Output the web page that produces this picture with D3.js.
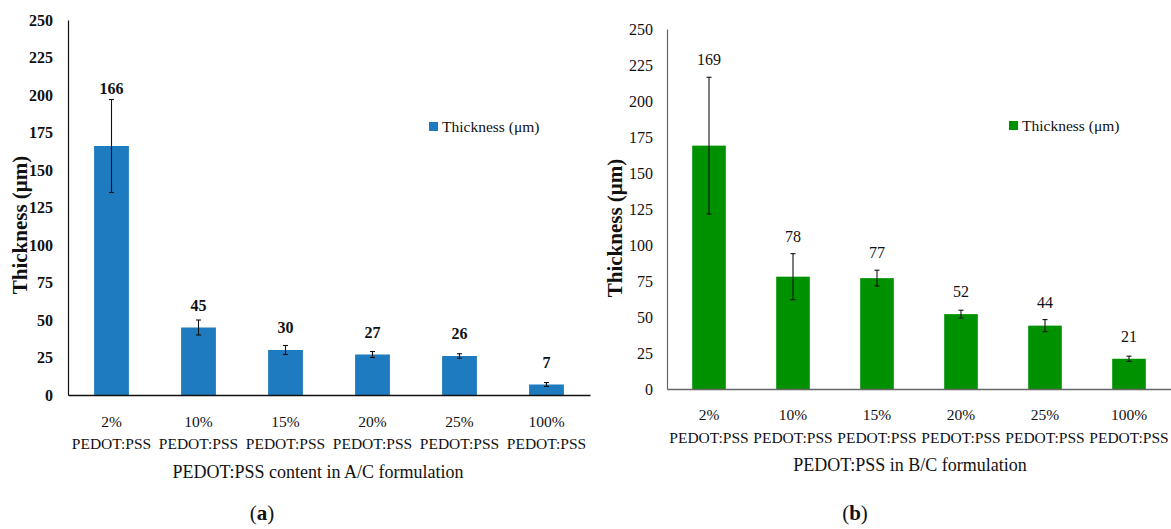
<!DOCTYPE html>
<html>
<head>
<meta charset="utf-8">
<script src="https://cdn.jsdelivr.net/npm/d3@7/dist/d3.min.js"></script>
<style>
  html, body { margin: 0; padding: 0; background: #fff; }
  svg, svg text { font-family: "Liberation Serif", "DejaVu Serif", serif; }
</style>
</head>
<body>
<svg id="fig" width="1171" height="529" font-family="Liberation Serif, serif"></svg>
<script>
// Film thickness per PEDOT:PSS content, two formulations
const categories = ["2%", "10%", "15%", "20%", "25%", "100%"];
const thicknessAC = [166, 45, 30, 27, 26, 7];
const errorAC = [31, 5, 3, 2, 1.5, 1.3];
const thicknessBC = [169, 78, 77, 52, 44, 21];
const errorBC = [47.5, 16, 5.5, 2.7, 4.2, 1.8];
const yTicks = [0, 25, 50, 75, 100, 125, 150, 175, 200, 225, 250];

const FONT = "Liberation Serif, serif";
const svg = d3.select("#fig");

function panel(cfg) {
  const g = svg.append("g").attr("font-family", FONT);
  const x = d3.scaleBand().domain(categories)
    .range([cfg.left, cfg.right]).paddingInner(0.6).paddingOuter(0.3);
  const y = d3.scaleLinear().domain([0, 250]).range([cfg.bottom, cfg.top]);

  // bars
  g.selectAll("rect.bar").data(cfg.values).join("rect")
    .attr("class", "bar")
    .attr("x", (d, i) => x(categories[i]))
    .attr("width", x.bandwidth())
    .attr("y", d => y(d))
    .attr("height", d => y(0) - y(d))
    .attr("fill", cfg.color);

  // error bars
  const eb = g.selectAll("g.err").data(cfg.values).join("g").attr("class", "err");
  const cx = i => x(categories[i]) + x.bandwidth() / 2;
  eb.append("line")
    .attr("x1", (d, i) => cx(i)).attr("x2", (d, i) => cx(i))
    .attr("y1", (d, i) => y(d - cfg.errors[i])).attr("y2", (d, i) => y(d + cfg.errors[i]))
    .attr("stroke", "#111").attr("stroke-width", 1.1);
  [-1, 1].forEach(s => {
    eb.append("line")
      .attr("x1", (d, i) => cx(i) - 2.5).attr("x2", (d, i) => cx(i) + 2.5)
      .attr("y1", (d, i) => y(d + s * cfg.errors[i])).attr("y2", (d, i) => y(d + s * cfg.errors[i]))
      .attr("stroke", "#111").attr("stroke-width", 1.1);
  });

  // value labels
  g.selectAll("text.val").data(cfg.values).join("text")
    .attr("class", "val")
    .attr("x", (d, i) => cx(i))
    .attr("y", (d, i) => Math.min(y(d) - 22, y(d + cfg.errors[i]) - cfg.labelGap) + 5)
    .attr("text-anchor", "middle")
    .attr("font-family", FONT)
    .attr("font-size", 16)
    .attr("font-weight", cfg.valueWeight)
    .attr("fill", "#111")
    .text(d => d);

  // y axis
  const ya = d3.axisLeft(y).tickValues(yTicks).tickSize(0).tickPadding(cfg.tickPad);
  const yg = g.append("g").attr("transform", `translate(${cfg.left},0)`).call(ya)
    .attr("font-family", FONT);
  yg.select(".domain").attr("stroke", cfg.axisColor).attr("stroke-width", 1.2);
  yg.selectAll("text").attr("font-size", 16).attr("font-weight", cfg.tickWeight)
    .attr("fill", "#111").attr("font-family", FONT);

  // x axis
  const xa = d3.axisBottom(x).tickSize(0).tickFormat(() => "");
  const xg = g.append("g").attr("transform", `translate(0,${cfg.bottom})`).call(xa);
  xg.select(".domain").attr("stroke", cfg.axisColor).attr("stroke-width", 1.6);
  categories.forEach(c => {
    const t = g.append("text").attr("text-anchor", "middle")
      .attr("font-family", FONT).attr("font-size", 15.5).attr("fill", "#111");
    t.append("tspan").attr("x", x(c) + x.bandwidth() / 2).attr("y", cfg.bottom + cfg.tick1).text(c);
    t.append("tspan").attr("x", x(c) + x.bandwidth() / 2).attr("y", cfg.bottom + cfg.tick2).text("PEDOT:PSS");
  });

  // axis titles
  g.append("text").attr("x", cfg.xTitleX).attr("y", cfg.xTitleY)
    .attr("text-anchor", "middle").attr("font-family", FONT).attr("font-size", 18).attr("fill", "#111")
    .text(cfg.xTitle);
  g.append("text")
    .attr("transform", `translate(${cfg.yTitleX},${cfg.yTitleY}) rotate(-90)`)
    .attr("text-anchor", "middle").attr("font-family", FONT).attr("font-size", 21).attr("font-weight", "bold")
    .attr("fill", "#111").text("Thickness (μm)");

  // legend
  g.append("rect").attr("x", cfg.legX).attr("y", cfg.legY - 5).attr("width", 9).attr("height", 9)
    .attr("fill", cfg.color);
  g.append("text").attr("x", cfg.legX + 13).attr("y", cfg.legY + 5)
    .attr("font-family", FONT).attr("font-size", 15.5).attr("fill", "#111").text("Thickness (μm)");

  // panel caption
  const cap = g.append("text").attr("x", cfg.capX).attr("y", 520)
    .attr("text-anchor", "middle").attr("font-family", FONT).attr("font-size", 21).attr("fill", "#111");
  cap.append("tspan").text("(");
  cap.append("tspan").attr("font-weight", "bold").text(cfg.cap);
  cap.append("tspan").text(")");
}

panel({
  values: thicknessAC, errors: errorAC, color: "#1f7bbf",
  left: 68, right: 590, top: 20, bottom: 395,
  axisColor: "#111", tickWeight: "bold", valueWeight: "bold", tickPad: 15,
  labelGap: 11, tick1: 32, tick2: 54,
  xTitle: "PEDOT:PSS content in A/C formulation", xTitleX: 318, xTitleY: 478,
  yTitleX: 27, yTitleY: 225,
  legX: 429, legY: 127, cap: "a", capX: 262
});

panel({
  values: thicknessBC, errors: errorBC, color: "#009100",
  left: 667, right: 1171, top: 29, bottom: 389,
  axisColor: "#666", tickWeight: "normal", valueWeight: "normal", tickPad: 14,
  labelGap: 17, tick1: 31, tick2: 54,
  xTitle: "PEDOT:PSS in B/C formulation", xTitleX: 910, xTitleY: 471,
  yTitleX: 622, yTitleY: 228,
  legX: 1009, legY: 126, cap: "b", capX: 855
});
</script>
</body>
</html>
